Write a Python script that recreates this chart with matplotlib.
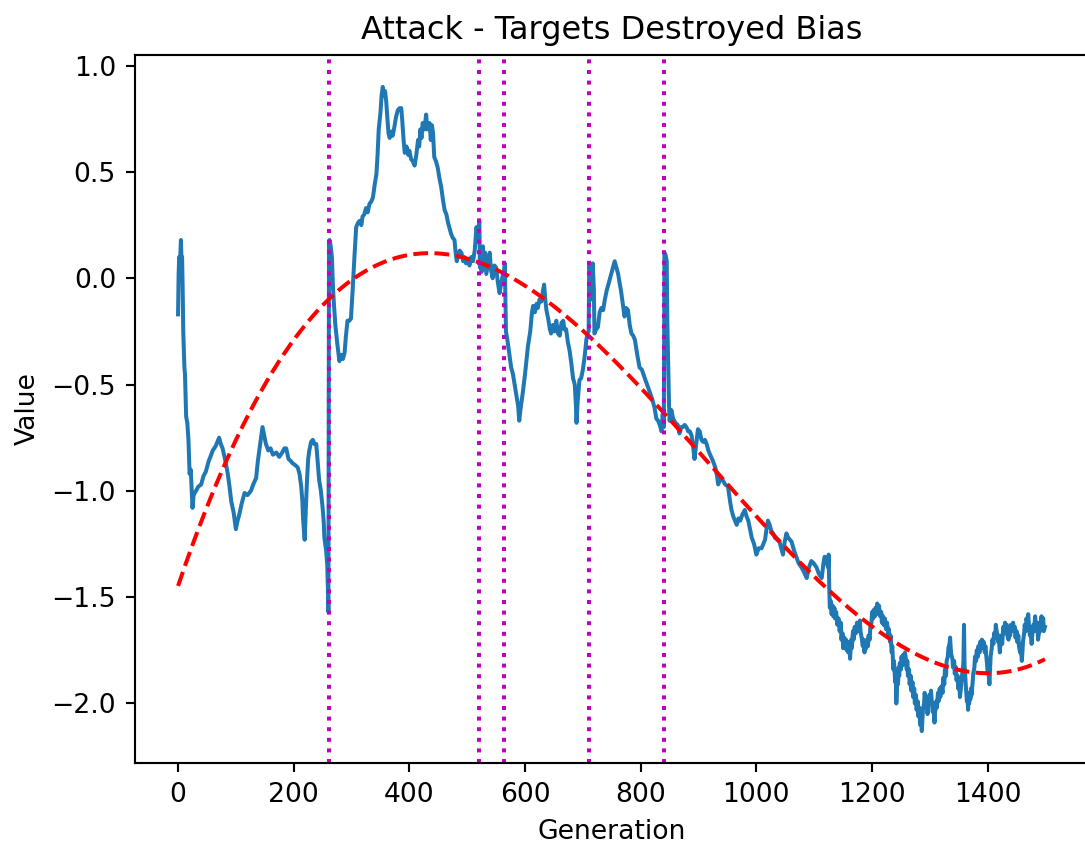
import numpy as np
import matplotlib
matplotlib.use("Agg")
import matplotlib.pyplot as plt

# Bias value per generation, first part of the run (0 - 1121)
generation_early = [
    0, 1, 2, 3, 4, 5, 6, 7, 8, 9, 11, 12, 14, 16, 18, 20, 22, 25, 27, 31, 35, 40, 44, 48, 53, 56, 60, 65,
    71, 74, 77, 82, 86, 89, 92, 96, 100, 103, 106, 110, 115, 120, 126, 130, 135, 138, 141, 146, 149, 152,
    156, 160, 164, 170, 175, 180, 184, 187, 191, 195, 198, 203, 207, 210, 213, 215, 216, 218, 219, 220,
    221, 223, 225, 227, 230, 233, 236, 239, 242, 244, 247, 250, 252, 253, 256, 258, 259, 260,
    261, 262, 264, 266, 268, 270, 272, 275, 279, 282, 285, 288, 290, 293, 296, 299, 302, 305, 308, 311,
    314, 317, 319, 322, 325, 328, 331, 334, 337, 340, 343, 345, 347, 350, 352, 354, 356, 358, 360, 362,
    364, 366, 369, 371, 374, 377, 380, 383, 386, 388, 390, 392, 395, 398, 400, 403, 406, 409, 412, 415,
    417, 419, 421, 423, 426, 429, 431, 433, 435, 437, 439, 441, 443, 446, 449, 452, 455, 458, 461, 464,
    467, 470, 472, 475, 478, 480, 482, 484, 487, 490, 493, 495, 498, 501, 504, 507, 510, 513, 516, 518,
    519, 521, 522, 523, 525, 527, 529, 531, 533, 536, 539, 541, 544, 547, 550, 553, 556, 559, 562, 564,
    565, 566, 567, 570, 573, 576, 579, 582, 585, 588, 590, 592, 594, 596, 600, 603, 605, 609, 612, 614,
    617, 620, 622, 625, 628, 631, 633, 635, 637, 640, 643, 645, 648, 651, 654, 657, 660, 663, 666, 668,
    671, 674, 677, 680, 683, 686, 688, 689, 691, 694, 697, 700, 703, 706, 708, 710, 711, 713, 715, 717,
    719, 720, 723, 726, 729, 732, 735, 738, 741, 743, 746, 749, 752, 755, 758, 761, 764, 766, 769, 772,
    775, 778, 781, 784, 787, 790, 794, 798, 802, 807, 811, 815, 820, 824, 827, 830, 833, 836, 838, 840,
    841, 843, 845, 846, 847, 849, 850, 853, 856, 860, 864, 867, 870, 873, 876, 879, 882, 885, 888, 891,
    893, 896, 899, 902, 905, 908, 911, 914, 917, 920, 925, 929, 932, 934, 937, 940, 942, 946, 951, 954,
    957, 960, 963, 966, 969, 972, 976, 980, 983, 986, 989, 992, 996, 1000, 1004, 1009, 1012, 1015, 1018,
    1020, 1023, 1026, 1029, 1032, 1036, 1040, 1043, 1046, 1049, 1052, 1055, 1058, 1061, 1065, 1069, 1073,
    1078, 1082, 1087, 1091, 1095, 1099, 1104, 1108, 1113, 1116, 1118, 1121,
]
bias_early = [
    -0.17, 0.02, 0.10, 0.05, 0.12, 0.18, 0.08, 0.10, -0.05, -0.25, -0.42, -0.45, -0.65, -0.68, -0.76, -0.92,
    -0.90, -1.08, -1.02, -1.00, -0.98, -0.97, -0.93, -0.91, -0.86, -0.84, -0.81, -0.79,
    -0.75, -0.78, -0.80, -0.86, -0.92, -0.98, -1.05, -1.10, -1.18, -1.14, -1.11, -1.06, -1.01, -1.02, -1.00,
    -0.97, -0.94, -0.86, -0.80, -0.70, -0.74, -0.78,
    -0.81, -0.80, -0.83, -0.82, -0.84, -0.82, -0.80, -0.80, -0.85, -0.86, -0.87, -0.88, -0.89, -0.92, -0.98,
    -1.05, -1.12, -1.20, -1.23, -1.15,
    -1.08, -0.95, -0.85, -0.81, -0.77, -0.76, -0.78, -0.78, -0.88, -0.95, -1.00, -1.08, -1.15, -1.22, -1.28,
    -1.35, -1.45, -1.57,
    0.17, 0.18, 0.15, 0.10, -0.05, -0.14, -0.22, -0.30, -0.39, -0.36, -0.38, -0.35, -0.28, -0.20, -0.20,
    -0.19, -0.05, 0.10, 0.24, 0.26,
    0.27, 0.25, 0.29, 0.30, 0.33, 0.31, 0.35, 0.36, 0.38, 0.44, 0.49, 0.58, 0.70, 0.78, 0.86, 0.90, 0.86,
    0.88, 0.83, 0.75,
    0.68, 0.66, 0.69, 0.67, 0.71, 0.76, 0.79, 0.80, 0.80, 0.73, 0.65, 0.59, 0.62, 0.58, 0.60, 0.56, 0.55,
    0.53, 0.58, 0.65,
    0.62, 0.70, 0.66, 0.73, 0.70, 0.77, 0.70, 0.72, 0.73, 0.65, 0.72, 0.68, 0.57, 0.55, 0.52, 0.47, 0.43,
    0.37, 0.32, 0.30,
    0.26, 0.23, 0.21, 0.19, 0.18, 0.12, 0.08, 0.10, 0.13, 0.12, 0.08, 0.10, 0.07, 0.08, 0.06, 0.10, 0.08,
    0.13, 0.24, 0.20,
    0.22, 0.27, 0.05, 0.10, 0.03, 0.15, 0.08, 0.12, 0.02, 0.07, 0.12, 0.04, 0.00, 0.06, 0.05, -0.02, -0.07,
    -0.02, 0.02, 0.04,
    0.07, -0.10, -0.25, -0.30, -0.36, -0.42, -0.45, -0.50, -0.55, -0.60, -0.67, -0.62, -0.58, -0.54, -0.45,
    -0.37, -0.32, -0.25, -0.16, -0.13,
    -0.16, -0.12, -0.14, -0.10, -0.11, -0.06, -0.03, -0.10, -0.15, -0.19, -0.24, -0.26, -0.22, -0.25, -0.20,
    -0.26, -0.27, -0.21, -0.20, -0.24,
    -0.24, -0.30, -0.34, -0.40, -0.47, -0.50, -0.60, -0.68, -0.58, -0.48, -0.47, -0.43, -0.37, -0.29, -0.26,
    -0.25, 0.07, 0.02, -0.10, 0.07,
    -0.05, -0.26, -0.24, -0.23, -0.16, -0.14, -0.15, -0.10, -0.06, -0.04, -0.01, 0.02, 0.05, 0.08, 0.05,
    0.02, -0.03, -0.06, -0.12, -0.18,
    -0.14, -0.15, -0.22, -0.26, -0.27, -0.29, -0.36, -0.42, -0.43, -0.47, -0.50, -0.53, -0.57, -0.61, -0.66,
    -0.67, -0.69, -0.72, -0.64, -0.70,
    0.12, 0.11, 0.08, -0.20, -0.34, -0.60, -0.67, -0.62, -0.66, -0.68, -0.69, -0.73, -0.70, -0.70, -0.69,
    -0.70, -0.72, -0.72, -0.74, -0.80,
    -0.85, -0.78, -0.71, -0.72, -0.76, -0.77, -0.76, -0.78, -0.81, -0.83, -0.86, -0.89, -0.93, -0.97, -0.95,
    -0.94, -0.95, -0.97, -0.98, -1.04,
    -1.09, -1.12, -1.14, -1.16, -1.13, -1.14, -1.11, -1.09, -1.12, -1.14, -1.18, -1.22, -1.25, -1.30, -1.27,
    -1.27, -1.25, -1.23, -1.17,
    -1.14, -1.16, -1.19, -1.20, -1.22, -1.23, -1.24, -1.27, -1.30, -1.24, -1.20, -1.22, -1.23, -1.24, -1.28,
    -1.31, -1.34,
    -1.36, -1.38, -1.41, -1.36, -1.33, -1.34, -1.36, -1.39, -1.41, -1.34, -1.31, -1.33,
]

# Bias value per generation, late part of the run (1124 - 1499)
generation_late = [
    1124, 1125, 1126, 1127, 1129, 1130, 1132, 1133, 1135, 1136, 1138, 1140, 1142, 1144, 1146, 1147, 1149,
    1150, 1152, 1153, 1155, 1156, 1158, 1159, 1161, 1162, 1164, 1165, 1167, 1168, 1170, 1172, 1174, 1176,
    1179, 1180, 1182, 1184, 1185, 1187, 1188, 1190, 1191, 1193, 1194, 1196, 1197, 1199, 1200, 1202, 1203,
    1205, 1206, 1208, 1209, 1211, 1212, 1214, 1216, 1217, 1219, 1220, 1222, 1224, 1226, 1228, 1229, 1231,
    1232, 1234, 1235, 1237, 1238, 1240, 1241, 1242, 1243, 1244, 1245, 1246, 1247, 1248, 1250, 1251, 1253,
    1254, 1256, 1257, 1259, 1260, 1261, 1262, 1264, 1265, 1267, 1268, 1270, 1271, 1273, 1274, 1276, 1277,
    1279, 1280, 1282, 1283, 1285, 1286, 1287, 1288, 1290, 1291, 1293, 1294, 1296, 1297, 1299, 1300, 1302,
    1303, 1305, 1306, 1308, 1309, 1311, 1312, 1314, 1315, 1317, 1318, 1320, 1322, 1323, 1325, 1326, 1328,
    1329, 1331, 1332, 1334, 1335, 1336, 1337, 1339, 1340, 1342, 1343, 1345, 1346, 1348, 1349, 1351, 1352,
    1354, 1355, 1357, 1358, 1359, 1360, 1361, 1362, 1363, 1364, 1365, 1366, 1367, 1368, 1369, 1370, 1371,
    1372, 1374, 1375, 1377, 1378, 1380, 1381, 1383, 1384, 1386, 1387, 1389, 1390, 1392, 1393, 1395, 1396,
    1398, 1399, 1400, 1401, 1403, 1404, 1405, 1407, 1408, 1410, 1411, 1413, 1414, 1416, 1418, 1419, 1421,
    1422, 1424, 1425, 1427, 1428, 1430, 1431, 1433, 1434, 1436, 1437, 1439, 1440, 1442, 1444, 1445, 1447,
    1448, 1450, 1451, 1453, 1454, 1456, 1457, 1459, 1460, 1461, 1463, 1464, 1466, 1467, 1469, 1470, 1471,
    1473, 1474, 1476, 1477, 1479, 1480, 1482, 1483, 1485, 1486, 1487, 1489, 1490, 1491, 1493, 1494, 1496,
    1497, 1499,
]
bias_late = [
    -1.36, -1.30, -1.45, -1.55, -1.52, -1.58, -1.54, -1.59, -1.55, -1.60, -1.57, -1.63, -1.60, -1.66, -1.62,
    -1.70, -1.67,
    -1.74, -1.69, -1.73, -1.70, -1.75, -1.71, -1.76, -1.73, -1.79, -1.70, -1.74, -1.66, -1.70, -1.64, -1.67,
    -1.62, -1.66,
    -1.61, -1.66, -1.69, -1.73, -1.70, -1.76, -1.72, -1.74, -1.70, -1.73, -1.68, -1.70, -1.64, -1.62, -1.57,
    -1.60, -1.56,
    -1.59, -1.55, -1.58, -1.53, -1.56, -1.54, -1.59, -1.57, -1.62, -1.59, -1.63, -1.60, -1.65, -1.62, -1.68,
    -1.65, -1.71,
    -1.68, -1.76, -1.73, -1.84, -1.80, -1.90, -1.86, -2.00, -1.93, -1.87, -1.91, -1.83, -1.87, -1.81, -1.84,
    -1.78, -1.82,
    -1.77, -1.81, -1.76, -1.80, -1.84, -1.80, -1.87, -1.84, -1.91, -1.87, -1.94, -1.90, -1.97, -1.93, -2.00,
    -1.96, -2.03,
    -1.99, -2.06, -2.02, -2.10, -2.05, -2.13, -2.08, -2.03, -2.00, -1.95, -2.01, -1.97, -2.05, -2.01, -1.96,
    -2.00, -1.94,
    -1.98, -2.04, -2.00, -2.09, -2.04, -1.99, -2.02, -1.95, -1.99, -1.93, -1.97, -1.92, -1.95, -1.88, -1.91,
    -1.84, -1.87,
    -1.80, -1.78, -1.74, -1.72, -1.69, -1.74, -1.77, -1.79, -1.83, -1.80, -1.86, -1.83, -1.89, -1.87, -1.93,
    -1.90, -1.97,
    -1.92, -1.88, -1.84, -1.80, -1.63, -1.82, -1.86, -1.91, -1.95, -1.99, -1.96, -2.03, -1.98, -2.00, -1.95,
    -1.98, -1.93,
    -1.96, -1.90, -1.86, -1.83, -1.78, -1.80, -1.75, -1.78, -1.73, -1.76, -1.71, -1.74, -1.70, -1.74, -1.71,
    -1.76, -1.73,
    -1.79, -1.82, -1.86, -1.84, -1.91, -1.85, -1.78, -1.74, -1.70, -1.72, -1.67, -1.69, -1.63, -1.67, -1.71,
    -1.68, -1.76,
    -1.72, -1.68, -1.72, -1.64, -1.67, -1.62, -1.66, -1.63, -1.68, -1.70, -1.65, -1.68, -1.63, -1.66, -1.62,
    -1.66, -1.64,
    -1.69, -1.66, -1.71, -1.68, -1.73, -1.76, -1.72, -1.80, -1.76, -1.71, -1.67, -1.63, -1.66, -1.60, -1.63,
    -1.58, -1.62,
    -1.68, -1.65, -1.72, -1.68, -1.63, -1.66, -1.59, -1.63, -1.66, -1.62, -1.70, -1.66, -1.62, -1.66, -1.59,
    -1.63, -1.60,
    -1.66, -1.64,
]

# Trend line readings (generation, value) for the cubic fit
trend_generation = [0, 83, 146, 210, 262, 325, 423, 498, 556, 631, 712, 804, 1173, 1317, 1398, 1490]
trend_value = [-1.47, -0.857, -0.497, -0.245, -0.10, 0.052, 0.115, 0.084, 0.021, -0.104, -0.277, -0.528,
               -1.563, -1.814, -1.86, -1.81]

# Generations at which a target-destroyed event resets the bias
events = [261, 521, 564, 710, 840]

gen = np.asarray(generation_early + generation_late, dtype=float)
val = np.asarray(bias_early + bias_late, dtype=float)

# Cubic trend evaluated over every generation
grid = np.arange(0, 1500)
coef = np.polyfit(trend_generation, trend_value, 3)
trend = np.polyval(coef, grid)

DPI = 192
fig = plt.figure(figsize=(1085 / DPI, 847 / DPI), dpi=DPI)
ax = fig.add_axes([134.7 / 1085, (847 - 763.3) / 847, (1088.3 - 134.7) / 1085, (763.3 - 54.7) / 847])

ax.plot(gen, val, color="#1f77b4")
ax.plot(grid, trend, "r--")
for e in events:
    ax.axvline(e, color="m", linestyle=":")

ax.spines["right"].set_visible(False)
ax.set_title("Attack - Targets Destroyed Bias")
ax.set_xlabel("Generation")
ax.set_ylabel("Value")

fig.savefig("out.png", dpi=DPI)
